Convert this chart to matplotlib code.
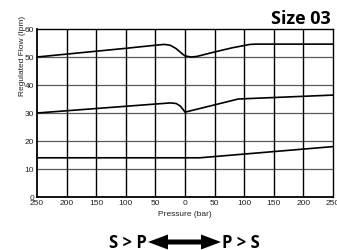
import matplotlib
matplotlib.use('Agg')
import matplotlib.pyplot as plt
from matplotlib.patches import Polygon

# pressure in bar: negative = S > P side, positive = P > S side
top_p = [-250, -100, -50, -35, -25, -15, -5, 0, 10, 20, 50, 80, 110, 120, 250]
top_q = [50, 53.1, 54.2, 54.5, 54.2, 53.0, 51.2, 50.4, 50.0, 50.2, 51.8, 53.3, 54.5, 54.6, 54.6]

mid_p = [-250, -50, -25, -15, -8, -3, 0, 50, 90, 250]
mid_q = [30, 33.2, 33.6, 33.4, 32.5, 31.2, 30.3, 32.9, 35.0, 36.4]

low_p = [-250, 25, 250]
low_q = [14, 14, 18]

xticks = [-250, -200, -150, -100, -50, 0, 50, 100, 150, 200, 250]
yticks = [0, 10, 20, 30, 40, 50, 60]

plt.rcParams['font.family'] = ['Liberation Sans', 'DejaVu Sans']

W, H = 337, 250
fig = plt.figure(figsize=(W / 100, H / 100), dpi=100)
ax = fig.add_axes([37/W, 53/H, 296/W, 168/H])

for y in yticks[1:-1]:
    ax.axhline(y, color='#5a5a5a', lw=0.9, zorder=1)
for x in xticks[1:-1]:
    ax.axvline(x, color='black', lw=1.0, zorder=1)

for p, q in [(top_p, top_q), (mid_p, mid_q), (low_p, low_q)]:
    ax.plot(p, q, color='black', lw=1.2, zorder=3)

ax.set_xlim(-250, 250)
ax.set_ylim(0, 60)
ax.set_xticks(xticks)
ax.set_xticklabels([str(abs(x)) for x in xticks])
ax.set_yticks(yticks)
ax.tick_params(length=0, labelsize=6, colors='#222222', pad=2)
for s in ax.spines.values():
    s.set_color('black')
    s.set_linewidth(1.0)
ax.spines['left'].set_linewidth(1.3)
ax.spines['bottom'].set_linewidth(1.3)

fig.text(185/W, 1 - 215/H, 'Pressure (bar)', ha='center', va='center',
         fontsize=6, color='#222222')
fig.text(22/W, 1 - 56/H, 'Regulated Flow (lpm)', ha='center', va='center',
         rotation=90, fontsize=6, color='#222222')

fig.text(331/W, 1 - 24/H, 'Size 03', ha='right', va='baseline',
         fontsize=13, fontweight='bold', family='Open Sans')
fig.text(147/W, 1 - 247.5/H, 'S > P', ha='right', va='baseline',
         fontsize=12, fontweight='bold', family='Open Sans')
fig.text(222/W, 1 - 247.5/H, 'P > S', ha='left', va='baseline',
         fontsize=12, fontweight='bold', family='Open Sans')

# double-headed arrow between the two labels (figure pixels)
x0, x1, yc = 148, 221, 242
hl, hw, sw = 20, 7.5, 2.5
pts = [(x0, yc), (x0 + hl, yc + hw), (x0 + hl, yc + sw), (x1 - hl, yc + sw),
       (x1 - hl, yc + hw), (x1, yc), (x1 - hl, yc - hw), (x1 - hl, yc - sw),
       (x0 + hl, yc - sw), (x0 + hl, yc - hw)]
pts = [(px / W, 1 - py / H) for px, py in pts]
fig.patches.append(Polygon(pts, closed=True, transform=fig.transFigure,
                           facecolor='black', edgecolor='none'))

fig.savefig('out.png', dpi=100)
